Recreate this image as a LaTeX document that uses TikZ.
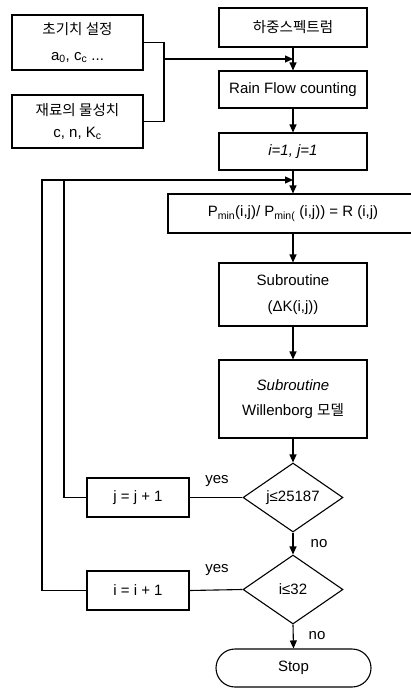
\documentclass[tikz,border=0pt]{standalone}
\usepackage{fontspec}
\setmainfont{Liberation Sans}
\newfontfamily\kr[Scale=0.97]{Noto Sans CJK KR}
\usetikzlibrary{shapes.geometric,arrows.meta}
\newcommand\sbs[1]{\textsubscript{#1}}
\begin{document}
\begin{tikzpicture}[x=1pt,y=-1pt,
  line width=1.1pt,
  every node/.style={font=\fontsize{15}{17}\selectfont},
  box/.style={draw, align=center, inner sep=0pt},
  dec/.style={draw, diamond, inner sep=0pt, aspect=1.45, minimum width=100pt, minimum height=69pt},
  term/.style={draw, rectangle, rounded corners=19pt, inner sep=0pt, minimum width=155pt, minimum height=38pt},
  arr/.style={-{Triangle[length=8pt,width=7pt]}},
  lbl/.style={inner sep=0pt}]
\useasboundingbox (0,0) rectangle (411,688);
\clip (0,0) rectangle (411,688);
% left input boxes
\node[box, minimum width=131pt, minimum height=55pt] (init) at (77.5,42.5)
  {{\kr 초기치 설정}\\[9pt] a\sbs{0}, c\sbs{c} ...};
\node[box, minimum width=131pt, minimum height=53pt] (mat) at (77.5,121.5)
  {{\kr 재료의 물성치}\\[5pt] c, n, K\sbs{c}};
% main column
\node[box, minimum width=148pt, minimum height=39pt] (spec) at (293,27.5) {\kr 하중스펙트럼};
\node[box, minimum width=148pt, minimum height=37pt] (rain) at (293,89.5) {Rain Flow counting};
\node[box, minimum width=148pt, minimum height=37pt] (ij) at (293,151.5) {\itshape i=1, j=1};
\node[box, minimum width=250pt, minimum height=39pt] (pmin) at (293,213.5)
  {P\sbs{min}(i,j)/ P\sbs{min(} (i,j)) = R (i,j)};
\node[box, minimum width=148pt, minimum height=63pt] (sub1) at (293,294.5)
  {Subroutine\\[9pt](ΔK(i,j))};
\node[box, minimum width=148pt, minimum height=78pt] (sub2) at (293,399)
  {\itshape Subroutine\\[8pt]Willenborg {\kr 모델}};
\node[dec] (d1) at (293,497.5) {j≤25187};
\node[dec] (d2) at (293,589.5) {i≤32};
\node[term] (stop) at (293.5,668) {Stop};
\node[box, minimum width=102pt, minimum height=39pt] (jb) at (138,497.5) {j = j + 1};
\node[box, minimum width=102pt, minimum height=39pt] (ib) at (138,590.5) {i = i + 1};
% labels
\node[lbl] (y1) at (217,481) {yes};
\node[lbl] (y2) at (217,570) {yes};
\node[lbl] (n1) at (319,544) {no};
\node[lbl] (n2) at (317,636) {no};
% input connector
\coordinate (jn) at (164,59);
\coordinate (jtop) at (164,42.5);
\coordinate (jbot) at (164,121.5);
\coordinate (jend) at (293,59);
\draw (init.east) -- (jtop) -- (jbot) -- (mat.east);
\draw[arr] (jn) -- (jend);
% main flow
\draw[arr] (spec.south) -- (rain.north);
\draw[arr] (rain.south) -- (ij.north);
\draw[arr] (ij.south) -- (pmin.north);
\draw[arr] (pmin.south) -- (sub1.north);
\draw[arr] (sub1.south) -- (sub2.north);
\draw[arr] (sub2.south) -- (d1.north);
\draw[arr] (d1.south) -- (d2.north);
\draw[arr] (d2.south) -- (stop.north);
% loops
\coordinate (lpend) at (293,180);
\coordinate (lj) at (64,497.5);
\coordinate (ljt) at (64,180);
\coordinate (li) at (42,590.5);
\coordinate (lit) at (42,180);
\draw (d1.west) -- (jb.east);
\draw (d2.west) -- (ib.east);
\draw (jb.west) -- (lj) -- (ljt);
\draw[arr] (ib.west) -- (li) -- (lit) -- (lpend);
\end{tikzpicture}
\end{document}
